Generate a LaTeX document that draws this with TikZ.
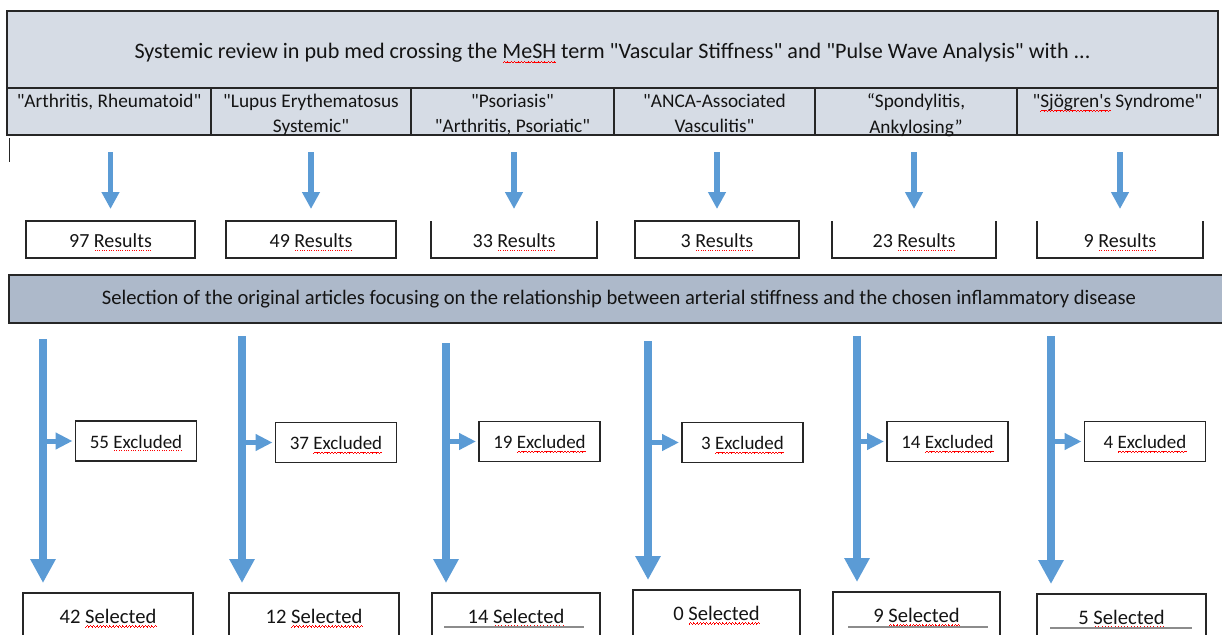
\documentclass[tikz,border=0pt]{standalone}
\usepackage{fontspec}
\setmainfont{Carlito}[Ligatures=TeXOff]
\usetikzlibrary{arrows.meta,calc}
\definecolor{arrowblue}{HTML}{5B9BD5}
\definecolor{headfill}{HTML}{D6DCE5}
\definecolor{selfill}{HTML}{ADB9CA}
\definecolor{edge}{HTML}{262626}
\definecolor{ink}{HTML}{141414}
\newcommand\wavecell{\hbox{\rule[-4.4pt]{0.8pt}{0.9pt}\rule[-3.8pt]{0.8pt}{0.9pt}\rule[-3.2pt]{0.8pt}{0.9pt}\rule[-3.8pt]{0.8pt}{0.9pt}}}
\newcommand\dotcell{\hbox to 2.3pt{\hss\rule[-3.2pt]{0.9pt}{0.9pt}\hss}}
\newcommand\redwave[1]{\setbox0\hbox{#1}\rlap{\color{red}\xleaders\wavecell\hskip\wd0}#1}
\newcommand\reddots[1]{\setbox0\hbox{#1}\rlap{\color{red}\xleaders\dotcell\hskip\wd0}#1}
\begin{document}
\begin{tikzpicture}[x=1pt,y=-1pt,
  every node/.style={text=ink, inner sep=0pt, outer sep=0pt},
  boxline/.style={draw=edge, line width=1.4pt},
  headcell/.style={boxline, fill=headfill},
  lab/.style={anchor=north, align=center, font=\fontsize{19.3}{25.5}\selectfont},
  resbox/.style={boxline, minimum height=37pt, text height=18pt, text depth=2pt, font=\fontsize{20}{24}\selectfont},
  resopen/.style={minimum height=37pt, text height=18pt, text depth=2pt, font=\fontsize{20}{24}\selectfont},
  exbox/.style={boxline, minimum width=121pt, minimum height=40pt, text height=16pt, text depth=2pt, font=\fontsize{19}{23}\selectfont},
  selbox/.style={boxline, minimum height=50pt, text height=14pt, text depth=4pt, font=\fontsize{20.6}{24}\selectfont},
  selbar/.style={boxline, fill=selfill, minimum height=48pt, text height=13pt, text depth=3pt, font=\fontsize{20.6}{24}\selectfont},
  smallarr/.style={draw=arrowblue, line width=5.5pt, -{Triangle[width=17pt,length=17pt]}, shorten <=17pt, shorten >=12pt},
  bigarr/.style={draw=arrowblue, line width=7.5pt, -{Triangle[width=24pt,length=24pt]}, shorten >=10pt},
  sidearr/.style={draw=arrowblue, line width=5pt, -{Triangle[width=16pt,length=17pt]}, shorten >=3pt},
  grayline/.style={draw=black!45, line width=1.2pt}]
\clip (0,0) rectangle (1222,634);

% header
\node[headcell, minimum width=1211pt, minimum height=77pt, text height=22pt, text depth=3pt, font=\fontsize{22.1}{26}\selectfont] (title) at (612.5,49.5)
  {Systemic review in pub med crossing the \redwave{MeSH} term "Vascular Stiffness" and "Pulse Wave Analysis" with ...};
\node[headcell, minimum width=204pt, minimum height=47pt] (c1) at (109,111.5) {};
\node[headcell, minimum width=200pt, minimum height=47pt] (c2) at (311,111.5) {};
\node[headcell, minimum width=203pt, minimum height=47pt] (c3) at (512.5,111.5) {};
\node[headcell, minimum width=201pt, minimum height=47pt] (c4) at (714.5,111.5) {};
\node[headcell, minimum width=202pt, minimum height=47pt] (c5) at (916,111.5) {};
\node[headcell, minimum width=201pt, minimum height=47pt] (c6) at (1117.5,111.5) {};
\node[lab] (l1) at (109,94) {"Arthritis, Rheumatoid"};
\node[lab] (l2) at (311,94) {"Lupus Erythematosus\\Systemic"};
\node[lab] (l3) at (512.5,94) {"Psoriasis"\\"Arthritis, Psoriatic"};
\node[lab] (l4) at (714.5,94) {"ANCA-Associated\\Vasculitis"};
\node[lab] (l5) at (916,94) {“Spondylitis,\\Ankylosing”};
\node[lab] (l6) at (1117.5,94) {"\redwave{Sjögren's} Syndrome"};
\draw[draw=edge, line width=1pt] (9,138) -- (9,162);

% results
\node[resbox, minimum width=169pt] (r1) at (110.5,239.5) {97 \reddots{Results}};
\node[resbox, minimum width=170pt] (r2) at (311,239.5) {49 \reddots{Results}};
\node[resopen, minimum width=166pt] (r3) at (514,239.5) {33 \reddots{Results}};
\node[resbox, minimum width=164pt] (r4) at (717,239.5) {3 \reddots{Results}};
\node[resopen, minimum width=164pt] (r5) at (914,239.5) {23 \reddots{Results}};
\node[resopen, minimum width=166pt] (r6) at (1120,239.5) {9 \reddots{Results}};
\foreach \r in {r3,r5,r6}
  \draw[boxline] (\r.north west) |- (\r.south east) -- (\r.north east);

\foreach \i in {1,...,6}
  \draw[smallarr] (c\i.south -| r\i.north) -- (r\i.north);

% selection bar
\node[selbar, minimum width=1220pt] (sel) at (619,299)
  {Selection of the original articles focusing on the relationship between arterial stiffness and the chosen inflammatory disease};

% excluded
\node[exbox] (e1) at (136,441) {55 \reddots{Excluded}};
\node[exbox] (e2) at (336,442.5) {37 \redwave{Excluded}};
\node[exbox] (e3) at (539.5,441.5) {19 \redwave{Excluded}};
\node[exbox] (e4) at (742.5,442.5) {3 \redwave{Excluded}};
\node[exbox] (e5) at (947.5,441.5) {14 \redwave{Excluded}};
\node[exbox] (e6) at (1145,441.5) {4 \redwave{Excluded}};

% selected
\node[selbox, minimum width=170pt] (s1) at (108,618) {42 \redwave{Selected}};
\node[selbox, minimum width=170pt] (s2) at (314,618) {12 \redwave{Selected}};
\node[selbox, minimum width=168pt] (s3) at (516,618) {14 \redwave{Selected}};
\node[selbox, minimum width=167pt] (s4) at (716.5,615) {0 \redwave{Selected}};
\node[selbox, minimum width=167pt] (s5) at (916.5,617) {9 \redwave{Selected}};
\node[selbox, minimum width=169pt] (s6) at (1121.5,619) {5 \redwave{Selected}};
\draw[grayline] ($(s3.north west)+(12,34)$) -- ($(s3.north east)+(-16,34)$);
\draw[grayline] ($(s5.north west)+(15,35)$) -- ($(s5.north east)+(-12,35)$);
\draw[grayline] ($(s6.north west)+(13,34)$) -- ($(s6.north east)+(-14,34)$);

% big arrows
\coordinate (t1) at (43,339);
\coordinate (t2) at (242,336);
\coordinate (t3) at (446,343);
\coordinate (t4) at (648,341);
\coordinate (t5) at (857,336);
\coordinate (t6) at (1051,336);
\foreach \i in {1,...,6}{
  \draw[bigarr] (t\i) -- (t\i |- s\i.north);
  \draw[sidearr] (t\i |- e\i.west) -- (e\i.west);
}
\end{tikzpicture}
\end{document}
